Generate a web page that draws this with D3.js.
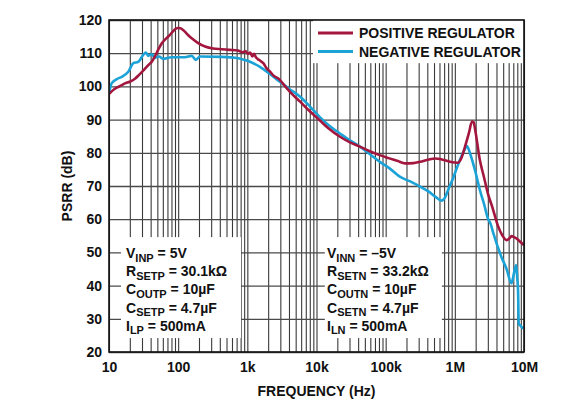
<!DOCTYPE html>
<html>
<head>
<meta charset="utf-8">
<script src="https://cdn.jsdelivr.net/npm/d3@7"></script>
<style>
  body { margin: 0; background: #fff; }
  text { font-family: "Liberation Sans", Arial, sans-serif; font-weight: bold; fill: #111; }
</style>
</head>
<body>
<svg width="587" height="412"></svg>
<script>
// tick values / labels
var xTicks = [1e1, 1e2, 1e3, 1e4, 1e5, 1e6, 1e7],
    xTickLabels = ["10", "100", "1k", "10k", "100k", "1M", "10M"],
    yTicks = [20, 30, 40, 50, 60, 70, 80, 90, 100, 110, 120];

// positive regulator
var posFreq = [10, 12, 15, 17, 20, 24, 27, 32, 37, 42, 46, 52, 58, 66, 76, 88, 98, 108, 125, 140, 157, 190, 245, 320, 425, 550, 730, 850, 950, 1020, 1100, 1180, 1250, 1330, 1420, 1520, 1700, 1890, 2100, 2350, 2950, 3250, 4200, 5800, 8000, 11000, 15000, 21600, 30000, 43000, 60000, 82000, 110000, 150000, 190000, 250000, 315000, 420000, 520000, 650000, 850000, 1100000, 1250000, 1400000, 1600000, 1770000, 1870000, 1970000, 2300000, 2650000, 3000000, 3500000, 4200000, 4900000, 5600000, 6200000, 6600000, 7200000, 7800000, 8800000, 10000000];
var posPsrr = [97.7, 99.2, 100.3, 100.9, 101.4, 102.4, 103.4, 105, 106.4, 107.6, 109, 111.2, 113, 114.3, 115.5, 117, 117.6, 117.5, 116.5, 115.4, 114.5, 113.2, 112, 111.4, 111.2, 111, 110.8, 110.3, 110.6, 109.8, 110.2, 109, 109.8, 108.8, 108.2, 107.8, 107, 105.5, 104.6, 103.4, 102, 100.9, 98.2, 95.4, 92.5, 89.9, 87.3, 84.9, 83.2, 81.8, 80.4, 79.3, 78.4, 77.5, 76.8, 76.9, 77.3, 78, 78.3, 78, 77.3, 77, 78.5, 81.8, 86, 89.4, 89.2, 86.9, 77.8, 72.5, 67.8, 63.5, 58, 55, 53.7, 54.3, 54.9, 54.6, 54.2, 53.2, 52.2];

// negative regulator
var negFreq = [10, 10.9, 13, 15.3, 19, 22.5, 26.5, 31.3, 34, 37, 41.4, 46, 53, 61, 80, 125, 157, 180, 207, 425, 740, 1000, 1290, 1520, 2100, 2950, 4000, 5800, 8000, 11000, 15000, 21600, 30000, 43000, 60000, 82000, 114000, 160000, 230000, 315000, 420000, 520000, 640000, 720000, 800000, 950000, 1130000, 1350000, 1500000, 1660000, 2000000, 2300000, 2650000, 3000000, 3300000, 3600000, 4700000, 5600000, 6600000, 7200000, 7700000, 8000000, 8200000, 8400000, 9000000, 9800000];
var negPsrr = [97.8, 100.9, 102.2, 102.9, 104.4, 107, 107.4, 109.5, 110.2, 109.2, 109.7, 108.6, 109, 108.3, 108.8, 108.8, 109.2, 108, 109, 108.9, 108.5, 107.7, 106.7, 105.9, 103.8, 101.4, 99.3, 96.9, 94, 90.9, 88.3, 85.9, 83.8, 81.8, 79.5, 77.3, 75.3, 72.8, 71.3, 69.8, 68.3, 66.8, 65.6, 66.5, 68.8, 72.5, 76.8, 80.5, 82, 79.8, 74, 68.8, 64.5, 60.3, 58.5, 55.8, 48.7, 45, 40.7, 44, 46.2, 42, 38.7, 28.6, 27.8, 27.1];

var seriesNames = ["POSITIVE REGULATOR", "NEGATIVE REGULATOR"],
    seriesColors = ["#a3173f", "#1ba3d8"];

var notesLeft = [["V", "INP", " = 5V"], ["R", "SETP", " = 30.1k\u03A9"], ["C", "OUTP", " = 10\u00B5F"], ["C", "SETP", " = 4.7\u00B5F"], ["I", "LP", " = 500mA"]],
    notesRight = [["V", "INN", " = \u20135V"], ["R", "SETN", " = 33.2k\u03A9"], ["C", "OUTN", " = 10\u00B5F"], ["C", "SETN", " = 4.7\u00B5F"], ["I", "LN", " = 500mA"]];

var svg = d3.select("svg"),
    margin = {top: 20, right: 63, bottom: 60, left: 109},
    width = +svg.attr("width") - margin.left - margin.right,
    height = +svg.attr("height") - margin.top - margin.bottom;

var x = d3.scaleLog().domain([10, 1e7]).range([0, width]),
    y = d3.scaleLinear().domain([20, 120]).range([height, 0]);

var g = svg.append("g")
    .attr("transform", "translate(" + margin.left + "," + margin.top + ")");

// grid: every 1..9 per decade
var minor = [];
for (var dec = 10; dec < 1e7; dec *= 10) {
  for (var k = 1; k < 10; k++) minor.push(dec * k);
}
minor.push(1e7);

g.append("g")
    .attr("class", "grid")
    .attr("transform", "translate(0," + height + ")")
    .call(d3.axisBottom(x).tickValues(minor).tickSize(-height).tickFormat(""))
    .call(function(s) { s.select(".domain").remove(); })
    .selectAll("line")
      .attr("stroke", "#3a3a3a")
      .attr("stroke-width", 1.1);

g.append("g")
    .attr("class", "grid")
    .call(d3.axisLeft(y).tickValues(yTicks).tickSize(-width).tickFormat(""))
    .call(function(s) { s.select(".domain").remove(); })
    .selectAll("line")
      .attr("stroke", "#4a4a4a")
      .attr("stroke-width", 1.3);

// white boxes over the grid (corners in data units)
function whiteBox(f0, f1, v0, v1) {
  g.append("rect")
      .attr("x", x(f0)).attr("y", y(v1))
      .attr("width", x(f1) - x(f0)).attr("height", y(v0) - y(v1))
      .attr("fill", "#fff");
}
whiteBox(14.9, 810, 24.2, 54.6);
whiteBox(13200, 650000, 24.2, 54.6);
whiteBox(8900, 1e7, 107, 120);

// curves
var line = d3.line()
    .x(function(d) { return x(d[0]); })
    .y(function(d) { return y(d[1]); })
    .curve(d3.curveMonotoneX);

g.append("clipPath").attr("id", "clip")
  .append("rect").attr("width", width).attr("height", height);

var series = [d3.zip(posFreq, posPsrr), d3.zip(negFreq, negPsrr)];

g.selectAll(".curve")
  .data([series[1], series[0]])
  .enter().append("path")
    .attr("class", "curve")
    .attr("clip-path", "url(#clip)")
    .attr("fill", "none")
    .attr("stroke", function(d, i) { return seriesColors[1 - i]; })
    .attr("stroke-width", 2.6)
    .attr("stroke-linejoin", "round")
    .attr("d", line);

// frame
g.append("rect")
    .attr("width", width).attr("height", height)
    .attr("fill", "none").attr("stroke", "#111").attr("stroke-width", 1.6);

// axes labels
g.append("g")
    .attr("transform", "translate(0," + height + ")")
    .call(d3.axisBottom(x).tickValues(xTicks).tickSize(0).tickPadding(10)
      .tickFormat(function(d, i) { return xTickLabels[i]; }))
    .call(function(s) { s.select(".domain").remove(); })
    .selectAll("text")
      .attr("font-size", 14)
      .style("font-family", "'Liberation Sans', Arial, sans-serif")
      .style("font-weight", "bold")
      .attr("fill", "#111");

g.append("g")
    .call(d3.axisLeft(y).tickValues(yTicks).tickSize(0).tickPadding(7))
    .call(function(s) { s.select(".domain").remove(); })
    .selectAll("text")
      .attr("font-size", 14)
      .style("font-family", "'Liberation Sans', Arial, sans-serif")
      .style("font-weight", "bold")
      .attr("fill", "#111");

svg.append("text")
    .attr("x", margin.left + width / 2)
    .attr("y", 396)
    .attr("text-anchor", "middle")
    .attr("font-size", 14)
    .text("FREQUENCY (Hz)");

svg.append("text")
    .attr("transform", "translate(72," + (margin.top + height / 2) + ") rotate(-90)")
    .attr("text-anchor", "middle")
    .attr("font-size", 14)
    .text("PSRR (dB)");

// legend
var leg = g.selectAll(".leg")
  .data(seriesNames)
  .enter().append("g")
    .attr("class", "leg")
    .attr("transform", function(d, i) { return "translate(" + (318 - margin.left) + "," + (13 + i * 18.5) + ")"; });

leg.append("line")
    .attr("x1", 0).attr("x2", 35)
    .attr("stroke", function(d, i) { return seriesColors[i]; })
    .attr("stroke-width", 3);

leg.append("text")
    .attr("x", 41)
    .attr("dy", "0.36em")
    .attr("font-size", 14)
    .text(function(d) { return d; });

// condition notes
function notes(rows, left) {
  var t = g.append("text")
      .attr("font-size", 14);
  rows.forEach(function(r, i) {
    var base = 258 - margin.top + i * 18.2;
    t.append("tspan").attr("x", left).attr("y", base).text(r[0]);
    t.append("tspan").attr("font-size", 11).attr("y", base + 3.5).text(r[1]);
    t.append("tspan").attr("y", base).text(r[2]);
  });
}
notes(notesLeft, 126 - margin.left);
notes(notesRight, 327 - margin.left);
</script>
</body>
</html>
